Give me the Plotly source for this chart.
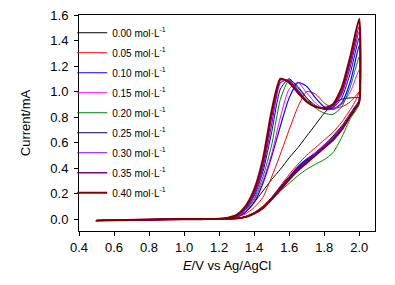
import plotly.graph_objects as go

labels = ["0.00", "0.05", "0.10", "0.15", "0.20", "0.25", "0.30", "0.35", "0.40"]
colors = ["#000000", "#ff0000", "#0000ff", "#ff00ff", "#008000", "#000080", "#8000ff", "#800080", "#800000"]
widths = [1, 1, 1.2, 1, 1, 1, 1.2, 1.4, 2]

# forward (upper, peak) branch potentials, V
x_up = [0.5, 0.7, 0.9, 1.1, 1.2, 1.25, 1.3, 1.35, 1.4, 1.45, 1.5, 1.55, 1.6, 1.65, 1.7, 1.75, 1.8, 1.85, 1.9, 1.95, 2.0]
y_up_000 = [-0.012, -0.007, -0.004, -0.001, 0.002, 0.004, 0.012, 0.05, 0.13, 0.22, 0.31, 0.39, 0.48, 0.56, 0.65, 0.74, 0.83, 0.9, 0.94, 0.95, 0.95]
y_up_005 = [-0.012, -0.007, -0.004, -0.001, 0.002, 0.005, 0.015, 0.04, 0.09, 0.17, 0.33, 0.51, 0.70, 0.88, 1.0, 0.98, 0.91, 0.87, 0.88, 0.92, 1.0]
y_up_010 = [-0.012, -0.007, -0.004, -0.001, 0.002, 0.006, 0.02, 0.055, 0.13, 0.28, 0.49, 0.73, 0.95, 1.07, 1.04, 0.95, 0.88, 0.86, 0.91, 1.08, 1.36]
y_up_015 = [-0.012, -0.007, -0.004, -0.001, 0.002, 0.006, 0.02, 0.06, 0.15, 0.30, 0.51, 0.80, 1.02, 1.07, 0.99, 0.91, 0.86, 0.86, 0.9, 1.0, 1.17]
y_up_020 = [-0.012, -0.007, -0.004, -0.001, 0.002, 0.007, 0.022, 0.07, 0.16, 0.33, 0.58, 0.94, 1.09, 1.04, 0.95, 0.87, 0.83, 0.82, 0.88, 1.04, 1.27]
y_up_025 = [-0.012, -0.007, -0.004, -0.001, 0.002, 0.008, 0.025, 0.075, 0.18, 0.37, 0.68, 1.02, 1.10, 1.03, 0.95, 0.89, 0.86, 0.87, 0.95, 1.15, 1.42]
y_up_030 = [-0.012, -0.007, -0.004, -0.001, 0.002, 0.008, 0.028, 0.08, 0.19, 0.40, 0.74, 1.07, 1.09, 1.01, 0.93, 0.88, 0.87, 0.88, 0.98, 1.2, 1.47]
y_up_035 = [-0.012, -0.007, -0.004, -0.001, 0.002, 0.009, 0.03, 0.09, 0.21, 0.43, 0.80, 1.09, 1.08, 1.0, 0.92, 0.88, 0.87, 0.89, 1.0, 1.24, 1.51]
y_up_040 = [-0.012, -0.007, -0.004, -0.001, 0.002, 0.01, 0.032, 0.10, 0.23, 0.47, 0.85, 1.10, 1.07, 0.99, 0.92, 0.88, 0.87, 0.9, 1.03, 1.28, 1.57]

# reverse (lower) branch potentials, V
x_down = [2.0, 1.98, 1.95, 1.9, 1.85, 1.8, 1.75, 1.7, 1.65, 1.6, 1.55, 1.5, 1.45, 1.4, 1.35, 1.3, 1.2, 1.0, 0.8, 0.5]
y_dn_000 = [0.93, 0.89, 0.83, 0.73, 0.65, 0.58, 0.52, 0.46, 0.40, 0.33, 0.25, 0.17, 0.10, 0.05, 0.02, 0.006, 0.002, 0.0, -0.004, -0.012]
y_dn_005 = [1.0, 0.93, 0.86, 0.76, 0.68, 0.62, 0.56, 0.50, 0.43, 0.35, 0.26, 0.17, 0.10, 0.05, 0.018, 0.005, 0.002, 0.0, -0.004, -0.012]
y_dn_010 = [0.93, 0.88, 0.82, 0.72, 0.64, 0.58, 0.52, 0.47, 0.41, 0.33, 0.25, 0.16, 0.09, 0.045, 0.016, 0.005, 0.002, 0.0, -0.004, -0.012]
y_dn_015 = [0.93, 0.88, 0.82, 0.72, 0.64, 0.58, 0.52, 0.46, 0.40, 0.33, 0.25, 0.16, 0.09, 0.045, 0.016, 0.005, 0.002, 0.0, -0.004, -0.012]
y_dn_020 = [0.9, 0.85, 0.79, 0.64, 0.52, 0.465, 0.43, 0.39, 0.34, 0.28, 0.22, 0.15, 0.085, 0.04, 0.015, 0.005, 0.002, 0.0, -0.004, -0.012]
y_dn_025 = [0.92, 0.87, 0.81, 0.71, 0.63, 0.57, 0.51, 0.46, 0.40, 0.33, 0.25, 0.16, 0.09, 0.045, 0.016, 0.005, 0.002, 0.0, -0.004, -0.012]
y_dn_030 = [0.92, 0.87, 0.81, 0.71, 0.63, 0.57, 0.51, 0.45, 0.39, 0.32, 0.24, 0.16, 0.09, 0.045, 0.016, 0.005, 0.002, 0.0, -0.004, -0.012]
y_dn_035 = [0.92, 0.87, 0.81, 0.70, 0.62, 0.56, 0.50, 0.45, 0.39, 0.32, 0.24, 0.16, 0.09, 0.045, 0.016, 0.005, 0.002, 0.0, -0.004, -0.012]
y_dn_040 = [0.92, 0.87, 0.81, 0.70, 0.62, 0.56, 0.50, 0.44, 0.38, 0.31, 0.23, 0.155, 0.085, 0.042, 0.015, 0.005, 0.002, 0.0, -0.004, -0.012]

ups = [y_up_000, y_up_005, y_up_010, y_up_015, y_up_020, y_up_025, y_up_030, y_up_035, y_up_040]
downs = [y_dn_000, y_dn_005, y_dn_010, y_dn_015, y_dn_020, y_dn_025, y_dn_030, y_dn_035, y_dn_040]

x_ticks = [0.4, 0.6, 0.8, 1.0, 1.2, 1.4, 1.6, 1.8, 2.0]
y_ticks = [0.0, 0.2, 0.4, 0.6, 0.8, 1.0, 1.2, 1.4, 1.6]
x_range = [0.4, 2.09]
y_range = [-0.094, 1.6]

FONT = "Arial, 'Liberation Sans', sans-serif"

fig = go.Figure()
for lab, col, w, yu, yd in zip(labels, colors, widths, ups, downs):
    fig.add_trace(go.Scatter(
        x=x_up + x_down, y=yu + yd, mode="lines",
        line=dict(color=col, width=w, shape="spline", smoothing=0.6),
        name=lab + " mol·L<sup>-1</sup>", legendgroup=lab,
    ))

axis_common = dict(showgrid=False, zeroline=False, showline=True, linecolor="black", linewidth=1,
                   mirror=True,
                   ticks="outside", ticklen=4, tickwidth=1, tickcolor="black", automargin=False,
                   ticklabeloverflow="allow",
                   tickfont=dict(family=FONT, size=13, color="black"))

fig.update_layout(
    width=395, height=285,
    margin=dict(l=71, r=28, t=7, b=62),
    paper_bgcolor="white", plot_bgcolor="white",
    font=dict(family=FONT, size=13, color="black"),
    xaxis=dict(range=x_range, tickvals=x_ticks, ticktext=[f"{v:.1f}" for v in x_ticks],
               title=dict(text="<i>E</i>/V vs Ag/AgCl", font=dict(family=FONT, size=13), standoff=7),
               **axis_common),
    yaxis=dict(range=y_range, tickvals=y_ticks, ticktext=[f"{v:.1f}" for v in y_ticks],
               ticklabelstandoff=3,
               title=dict(text="Current/mA", font=dict(family=FONT, size=13), standoff=16),
               **axis_common),
    xaxis2=dict(overlaying="x", side="top", anchor="y", range=x_range, tickvals=x_ticks, automargin=False,
                showticklabels=False, ticks="inside", ticklen=3, tickcolor="black",
                showgrid=False, zeroline=False, showline=True, linecolor="black"),
    yaxis2=dict(overlaying="y", side="right", anchor="x", range=y_range, tickvals=y_ticks, automargin=False,
                showticklabels=False, ticks="inside", ticklen=3, tickcolor="black",
                showgrid=False, zeroline=False, showline=True, linecolor="black"),
    legend=dict(x=-0.023, y=0.985, xanchor="left", yanchor="top", bgcolor="rgba(0,0,0,0)",
                font=dict(family=FONT, size=10, color="black"), tracegroupgap=1),
    showlegend=True,
)

fig.write_html("out.html")
